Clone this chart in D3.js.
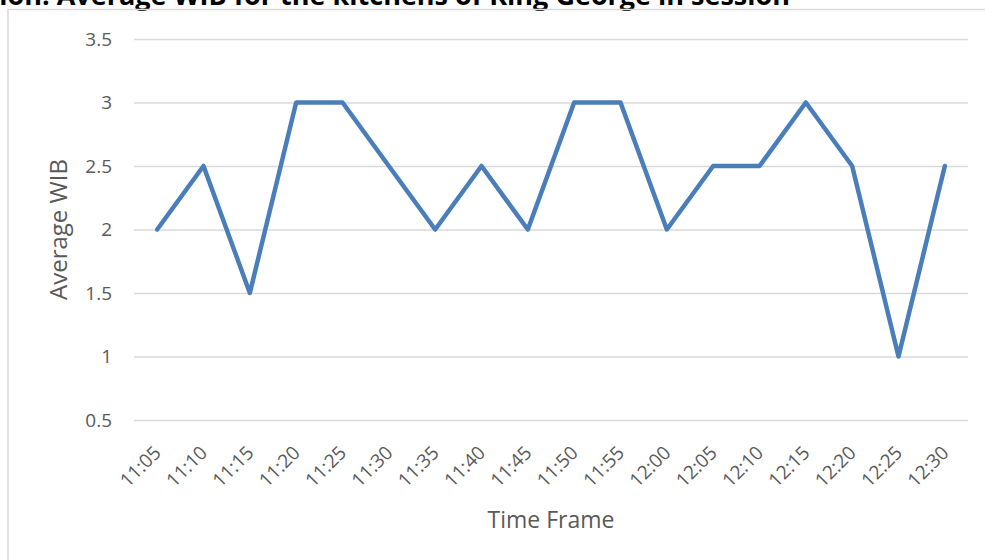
<!DOCTYPE html>
<html>
<head>
<meta charset="utf-8">
<script src="https://cdn.jsdelivr.net/npm/d3@7"></script>
<style>
  html, body { margin: 0; padding: 0; background: #fff; }
  svg { display: block; }
</style>
</head>
<body>
<svg id="chart" width="985" height="560"></svg>
<script>
// Time slots along the x axis
const timeFrames = ["11:05","11:10","11:15","11:20","11:25","11:30","11:35","11:40","11:45",
                    "11:50","11:55","12:00","12:05","12:10","12:15","12:20","12:25","12:30"];
// Average WIB per time slot
const averageWIB = [2, 2.5, 1.5, 3, 3, 2.5, 2, 2.5, 2, 3, 3, 2, 2.5, 2.5, 3, 2.5, 1, 2.5];
// Y tick values
const yTicks = [0.5, 1, 1.5, 2, 2.5, 3, 3.5];

const font = "'Open Sans', 'Noto Sans', sans-serif";
const svg = d3.select("#chart");

const plot = { left: 134, right: 968, top: 39, bottom: 420 };

const x = d3.scaleBand().domain(timeFrames).range([plot.left, plot.right]);
const y = d3.scaleLinear().domain([0.5, 3.5]).range([plot.bottom, plot.top]);

// Title (runs off the top edge)
svg.append("text")
  .attr("x", 790).attr("y", 5)
  .attr("text-anchor", "end")
  .attr("font-family", font).attr("font-weight", "bold")
  .attr("font-size", 27).attr("fill", "#000")
  .text("Observation: Average WIB for the kitchens of King George in session");

// Chart frame
svg.append("rect")
  .attr("x", 8).attr("y", 9.5)
  .attr("width", 1000).attr("height", 600)
  .attr("fill", "none").attr("stroke", "#d9d9d9").attr("stroke-width", 1.5);

// Horizontal gridlines and y tick labels
const yAxis = d3.axisLeft(y).tickValues(yTicks).tickSize(-(plot.right - plot.left)).tickPadding(22)
  .tickFormat(d => String(d));
const gy = svg.append("g").attr("transform", `translate(${plot.left},0)`).call(yAxis);
gy.select(".domain").remove();
gy.selectAll(".tick line").attr("stroke", "#d9d9d9").attr("stroke-width", 1.3);
gy.selectAll(".tick text")
  .attr("font-family", font).attr("font-size", 19).attr("fill", "#595959");

// X axis labels, rotated
const xAxis = d3.axisBottom(x).tickSize(0).tickPadding(0);
const gx = svg.append("g").attr("transform", `translate(0,${plot.bottom})`).call(xAxis);
gx.select(".domain").remove();
gx.selectAll(".tick text")
  .attr("font-family", font).attr("font-size", 19).attr("fill", "#595959")
  .attr("text-anchor", "end")
  .attr("y", 0)
  .attr("dy", null)
  .attr("transform", "translate(5,34) rotate(-45)");

// Axis titles
svg.append("text")
  .attr("transform", `translate(67,${(plot.top + plot.bottom) / 2}) rotate(-90)`)
  .attr("text-anchor", "middle")
  .attr("font-family", font).attr("font-size", 24).attr("fill", "#595959")
  .text("Average WIB");

svg.append("text")
  .attr("x", (plot.left + plot.right) / 2).attr("y", 528)
  .attr("text-anchor", "middle")
  .attr("font-family", font).attr("font-size", 23).attr("fill", "#595959")
  .text("Time Frame");

// Data line
const line = d3.line()
  .x((d, i) => x(timeFrames[i]) + x.bandwidth() / 2)
  .y(d => y(d));

svg.append("path")
  .datum(averageWIB)
  .attr("d", line)
  .attr("fill", "none")
  .attr("stroke", "#4a7ebb")
  .attr("stroke-width", 4.5)
  .attr("stroke-linejoin", "round")
  .attr("stroke-linecap", "round");
</script>
</body>
</html>
